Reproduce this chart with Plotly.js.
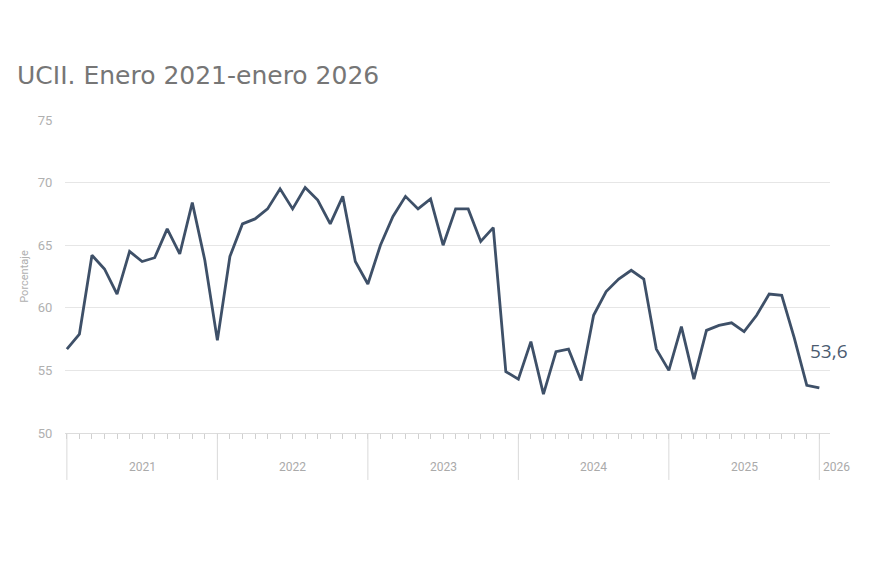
<!DOCTYPE html>
<html>
<head>
<meta charset="utf-8">
<script src="https://cdn.plot.ly/plotly-3.0.1.min.js"></script>
<style>html,body{margin:0;padding:0;background:#fff;}#chart{width:870px;height:580px;}</style>
</head>
<body>
<div id="chart"></div>
<script>
// Monthly index (0 = enero 2021 ... 60 = enero 2026)
const months = Array.from({length: 61}, (_, i) => i);
const ucii = [
  56.7, 57.9, 64.2, 63.1, 61.1, 64.5, 63.7, 64.0, 66.3, 64.3, 68.4, 63.8,
  57.4, 64.1, 66.7, 67.1, 67.9, 69.5, 67.9, 69.6, 68.6, 66.7, 68.9, 63.7,
  61.9, 65.0, 67.3, 68.9, 67.9, 68.7, 65.0, 67.9, 67.9, 65.3, 66.4, 54.9,
  54.3, 57.3, 53.1, 56.5, 56.7, 54.2, 59.4, 61.3, 62.3, 63.0, 62.3, 56.7,
  55.0, 58.5, 54.3, 58.2, 58.6, 58.8, 58.1, 59.4, 61.1, 61.0, 57.6, 53.8,
  53.6
];
const years = ["2021", "2022", "2023", "2024", "2025", "2026"];
const yearStart = [0, 12, 24, 36, 48, 60];
const lastLabel = "53,6";

const shapes = yearStart.map(x => ({
  type: 'line', xref: 'x', yref: 'paper', x0: x, x1: x, y0: 0, y1: -0.15,
  line: {color: '#d9d9d9', width: 1}
}));

const annotations = years.map((yr, k) => ({
  text: yr, xref: 'x', yref: 'paper',
  x: k < years.length - 1 ? yearStart[k] + 6 : yearStart[k],
  xanchor: k < years.length - 1 ? 'center' : 'left',
  xshift: k < years.length - 1 ? 0 : 2,
  y: -0.108, yanchor: 'middle', showarrow: false,
  font: {family: 'Roboto, sans-serif', size: 12, color: '#aaaaaa'}
}));
annotations.push({
  text: lastLabel, xref: 'x', yref: 'y',
  x: months[months.length - 1], y: ucii[ucii.length - 1],
  xanchor: 'left', yanchor: 'middle', xshift: -11, yshift: 37,
  showarrow: false,
  font: {family: 'Open Sans, sans-serif', size: 19, color: '#4b5b70'}
});

const trace = {
  x: months, y: ucii, type: 'scatter', mode: 'lines',
  line: {color: '#3e5068', width: 2.8},
  hoverinfo: 'skip'
};

const layout = {
  width: 870, height: 580,
  margin: {l: 65, r: 40, t: 120, b: 147},
  paper_bgcolor: '#ffffff', plot_bgcolor: '#ffffff',
  showlegend: false,
  title: {
    text: 'UCII. Enero 2021-enero 2026',
    x: 17 / 870, xanchor: 'left', xref: 'container',
    y: 1 - 75 / 580, yanchor: 'middle', yref: 'container',
    font: {family: 'DejaVu Sans, sans-serif', size: 25, color: '#767676'}
  },
  xaxis: {
    range: [-0.15, 60.85],
    tickmode: 'array', tickvals: months, ticktext: months.map(() => ''),
    ticks: 'outside', ticklen: 5, tickcolor: '#d0d0d0', tickwidth: 1,
    showticklabels: false,
    showgrid: false, zeroline: false,
    showline: true, linecolor: '#dcdcdc', linewidth: 1
  },
  yaxis: {
    range: [50, 75], tickvals: [50, 55, 60, 65, 70, 75],
    showgrid: true, gridcolor: '#e6e6e6', gridwidth: 1,
    zeroline: false, showline: false,
    ticks: 'outside', ticklen: 9, tickcolor: 'rgba(0,0,0,0)',
    tickfont: {family: 'Roboto, sans-serif', size: 13, color: '#b0b0b0'},
    title: {text: 'Porcentaje', standoff: 6,
            font: {family: 'Roboto, sans-serif', size: 11, color: '#b0b0b0'}}
  },
  shapes: shapes,
  annotations: annotations
};

Plotly.newPlot('chart', [trace], layout, {displayModeBar: false, staticPlot: true});
</script>
</body>
</html>
